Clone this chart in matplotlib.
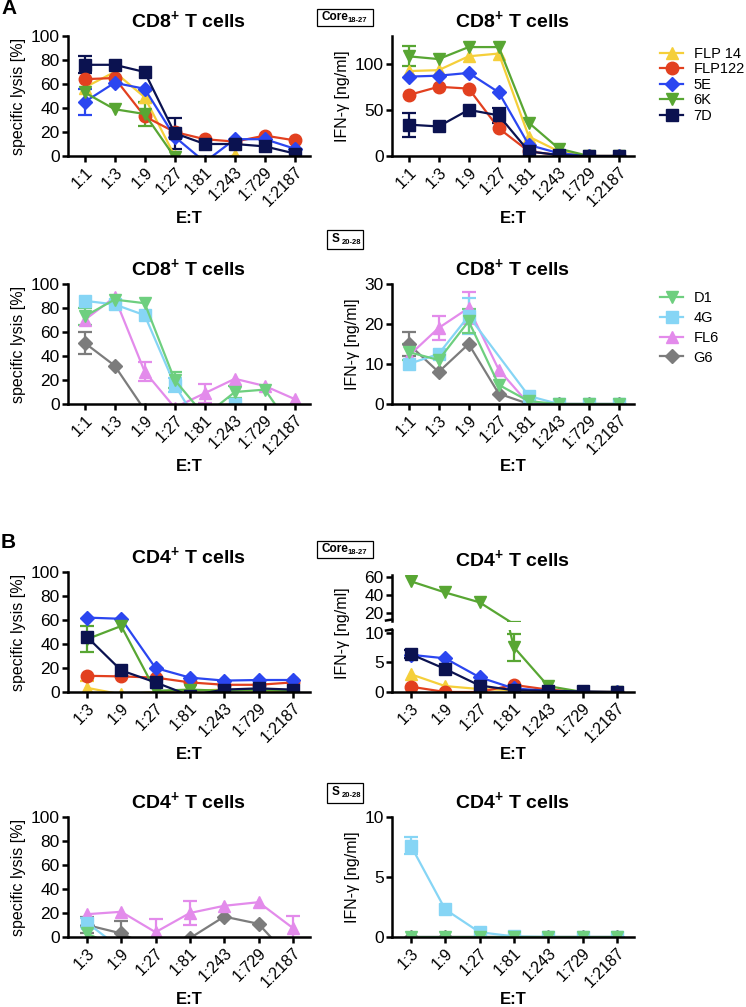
import numpy as np
import matplotlib
matplotlib.use('Agg')
import matplotlib.pyplot as plt
from matplotlib.lines import Line2D
from matplotlib.patches import Rectangle

plt.rcParams['font.family'] = ['Liberation Sans', 'DejaVu Sans']
plt.rcParams['mathtext.fontset'] = 'custom'
plt.rcParams['mathtext.rm'] = 'Liberation Sans'
plt.rcParams['mathtext.bf'] = 'Liberation Sans:bold'

N = np.nan

# ---- data ----
ratios_cd8 = ['1:1', '1:3', '1:9', '1:27', '1:81', '1:243', '1:729', '1:2187']
ratios_cd4 = ['1:3', '1:9', '1:27', '1:81', '1:243', '1:729', '1:2187']
core_clones = ['FLP 14', 'FLP122', '5E', '6K', '7D']
s_clones = ['D1', '4G', 'FL6', 'G6']

# A, Core18-27, CD8, specific lysis [%]
cd8_core_lysis = [
    [57, 70, 49, 0, -8, 1, -8, -10],
    [64, 65, 33, 20, 14, 12, 17, 13],
    [45, 61, 56, 16, -5, 14, 14, 6],
    [53, 39, 35, -1, -10, -10, -10, -10],
    [76, 76, 70, 19, 10, 10, 8, 2],
]
cd8_core_lysis_err = [
    [N, N, 5, N, N, N, N, N],
    [N, N, N, N, N, N, N, N],
    [11, N, N, N, N, N, N, N],
    [N, N, 10, N, N, N, N, N],
    [7, N, N, 13, N, N, N, N],
]
# A, Core18-27, CD8, IFN-g [ng/ml]
cd8_core_ifn = [
    [92, 93, 108, 111, 21, 5, 0, 0],
    [66, 75, 73, 30, 5, 1, 0, 0],
    [86, 87, 90, 69, 12, 3, 0, 0],
    [108, 105, 118, 118, 36, 8, 0, 0],
    [34, 32, 50, 44, 5, 1, 0, 0],
]
cd8_core_ifn_err = [
    [N, N, N, N, N, N, N, N],
    [N, N, N, N, N, N, N, N],
    [N, N, N, N, N, N, N, N],
    [11, N, N, N, N, N, N, N],
    [13, N, N, 8, N, N, N, N],
]
# A, S20-28, CD8, specific lysis [%]
cd8_s_lysis = [
    [73, 87, 84, 20, -10, 10, 12, -24],
    [86, 83, 74, 16, -25, 0, -20, -20],
    [70, 89, 27, -3, 9, 21, 15, 4],
    [51, 32, -5, -30, -30, -30, -30, -30],
]
cd8_s_lysis_err = [
    [7, N, N, 7, N, 5, N, N],
    [N, N, N, 6, N, N, N, N],
    [N, N, 8, N, 8, N, N, N],
    [9, N, N, N, N, N, N, N],
]
# A, S20-28, CD8, IFN-g [ng/ml]
cd8_s_ifn = [
    [13, 11, 20.7, 4.8, 0.7, 0, 0, 0],
    [10, 12.5, 22, N, 2, 0, 0, 0],
    [12, 19, 24, 8.6, 0, 0, 0, 0],
    [15, 8, 15, 2.6, 0, 0, 0, 0],
]
cd8_s_ifn_err = [
    [2, N, 3, N, N, N, N, N],
    [N, N, 4.5, N, N, N, N, N],
    [N, 3, 4, N, N, N, N, N],
    [3, N, N, N, N, N, N, N],
]
# B, Core18-27, CD4, specific lysis [%]
cd4_core_lysis = [
    [3.5, -2, 0, 1, 2, 1, 0],
    [13.5, 13, 12, 8, 6, 6, 8],
    [62, 61, 20, 12, 9.5, 10, 10],
    [44, 55, 1, 2, 1, 2, 1],
    [46, 18, 8, -3, 2, 3, 2],
]
cd4_core_lysis_err = [
    [6, N, N, N, N, N, N],
    [N, N, N, N, N, N, N],
    [N, N, N, N, N, N, N],
    [11, N, N, N, N, N, N],
    [N, N, N, N, N, N, N],
]
# B, Core18-27, CD4, IFN-g [ng/ml]
cd4_core_ifn = [
    [3, 1, 0.5, 0.3, 0.1, 0, 0],
    [0.9, 0, 0, 1.2, 0.4, 0, 0],
    [6.3, 5.7, 2.5, 0.6, 0.2, 0, 0],
    [55, 42.6, 31.7, 7.6, 1, 0, 0],
    [6.4, 3.9, 1.1, 0.3, 0.2, 0.1, 0],
]
cd4_core_ifn_err = [
    [N, N, N, N, N, N, N],
    [N, N, N, N, N, N, N],
    [N, N, N, N, N, N, N],
    [N, N, N, 2.3, N, N, N],
    [0.7, N, N, N, N, N, N],
]
# B, S20-28, CD4, specific lysis [%]
cd4_s_lysis = [
    [3, -10, -10, -10, -10, -10, -10],
    [12, -10, -10, -10, -10, -10, -10],
    [19, 21, 4, 20, 26, 29, 7.5],
    [10, 3, -10, -1, 17, 11, -20],
]
cd4_s_lysis_err = [
    [N, N, N, N, N, N, N],
    [4, N, N, N, N, N, N],
    [N, N, 11, 10, N, N, 10],
    [7, 10, N, N, N, N, N],
]
# B, S20-28, CD4, IFN-g [ng/ml]
cd4_s_ifn = [
    [0, 0, 0, 0, 0, 0, 0],
    [7.6, 2.3, 0.4, 0.05, 0, 0, 0],
    [0, 0, 0, 0, 0, 0, 0],
    [0, 0, 0, 0, 0, 0, 0],
]
cd4_s_ifn_err = [
    [N, N, N, N, N, N, N],
    [0.7, N, N, N, N, N, N],
    [N, N, N, N, N, N, N],
    [N, N, N, N, N, N, N],
]

core_colors = ['#F5CF3A', '#E2401F', '#2B46F0', '#58A633', '#0B1250']
core_markers = ['^', 'o', 'D', 'v', 's']
s_colors = ['#6ECF7F', '#86D5F5', '#E38BEB', '#7C7C7C']
s_markers = ['v', 's', '^', 'D']

W, H = 746, 1007
fig = plt.figure(figsize=(W / 100, H / 100), dpi=100)


def px_axes(x0, top, w, h):
    return fig.add_axes([x0 / W, 1 - (top + h) / H, w / W, h / H])


def msize(m):
    return 7.5 if m == 'D' else 9


def draw(ax, labels, data, errs, colors, markers, order, lo=None):
    x = np.arange(len(labels))
    for i in order:
        y = np.array(data[i], float)
        e = np.array(errs[i], float)
        ok = ~np.isnan(y)
        if lo is None:
            ax.errorbar(x[ok], y[ok], yerr=e[ok], color=colors[i], marker=markers[i],
                        ms=msize(markers[i]), lw=1.6, elinewidth=1.6, capsize=5, capthick=1.6)
        else:
            # upper part of a broken axis: no markers for points under the break
            ax.errorbar(x[ok], y[ok], yerr=e[ok], color=colors[i], marker='none',
                        lw=1.6, elinewidth=1.6, capsize=5, capthick=1.6)
            up = ok & (y >= lo)
            ax.plot(x[up], y[up], ls='none', color=colors[i], marker=markers[i], ms=msize(markers[i]))


def style(ax, labels, ylim, yticks, ylabel=None, xlabel=True):
    ax.set_xlim(-0.55, len(labels) - 0.5)
    ax.set_ylim(*ylim)
    ax.set_yticks(yticks)
    for s in ['top', 'right']:
        ax.spines[s].set_visible(False)
    for s in ['left', 'bottom']:
        ax.spines[s].set_linewidth(1.8)
    ax.tick_params(width=1.8, length=4.5, labelsize=12.5, pad=1.5)
    ax.set_xticks(np.arange(len(labels)))
    ax.set_xticklabels(labels, rotation=45, ha='right', rotation_mode='anchor', fontsize=11.5)
    if ylabel:
        ax.set_ylabel(ylabel, fontsize=11.5, labelpad=3)
    if xlabel:
        ax.set_xlabel('E:T', fontsize=12, fontweight='bold', labelpad=1)


def title(ax, t):
    ax.set_title(t, fontsize=14, fontweight='bold', pad=6)


def tag(x0, y0, x1, y1, main, sub):
    fig.add_artist(Rectangle((x0 / W, 1 - y1 / H), (x1 - x0) / W, (y1 - y0) / H, fill=False,
                             lw=0.9, ec='black', transform=fig.transFigure))
    yc = (y0 + y1) / 2
    fig.text((x0 + 5) / W, 1 - (yc - 1) / H, main, fontsize=8.5, fontweight='bold', va='center', ha='left')
    xs = x0 + 5 + (26 if main == 'Core' else 10)
    fig.text(xs / W, 1 - (yc + 2.5) / H, sub, fontsize=5.5, fontweight='bold', va='center', ha='left')


cd8 = 'CD8$^{\\mathbf{+}}$ T cells'
cd4 = 'CD4$^{\\mathbf{+}}$ T cells'
lys = 'specific lysis [%]'
ifn = 'IFN-γ [ng/ml]'
LX, RX, AW = 68, 392, 242
core_order = range(5)
s_order = [3, 2, 1, 0]

# row 1
ax = px_axes(LX, 36, AW, 120)
draw(ax, ratios_cd8, cd8_core_lysis, cd8_core_lysis_err, core_colors, core_markers, core_order)
style(ax, ratios_cd8, (0, 100), [0, 20, 40, 60, 80, 100], lys)
title(ax, cd8)
ax = px_axes(RX, 36, AW, 120)
draw(ax, ratios_cd8, cd8_core_ifn, cd8_core_ifn_err, core_colors, core_markers, core_order)
style(ax, ratios_cd8, (0, 130), [0, 50, 100], ifn)
title(ax, cd8)

# row 2
ax = px_axes(LX, 284, AW, 120)
draw(ax, ratios_cd8, cd8_s_lysis, cd8_s_lysis_err, s_colors, s_markers, s_order)
style(ax, ratios_cd8, (0, 100), [0, 20, 40, 60, 80, 100], lys)
title(ax, cd8)
ax = px_axes(RX, 284, AW, 120)
draw(ax, ratios_cd8, cd8_s_ifn, cd8_s_ifn_err, s_colors, s_markers, s_order)
style(ax, ratios_cd8, (0, 30), [0, 10, 20, 30], ifn)
title(ax, cd8)

# row 3
ax = px_axes(LX, 572, AW, 120)
draw(ax, ratios_cd4, cd4_core_lysis, cd4_core_lysis_err, core_colors, core_markers, core_order)
style(ax, ratios_cd4, (0, 100), [0, 20, 40, 60, 80, 100], lys)
title(ax, cd4)
ax_t = px_axes(RX, 575, AW, 46)
ax_b = px_axes(RX, 630, AW, 62)
draw(ax_t, ratios_cd4, cd4_core_ifn, cd4_core_ifn_err, core_colors, core_markers, core_order, lo=11)
draw(ax_b, ratios_cd4, cd4_core_ifn, cd4_core_ifn_err, core_colors, core_markers, core_order)
style(ax_b, ratios_cd4, (0, 10.5), [0, 5, 10])
style(ax_t, ratios_cd4, (11, 62), [20, 40, 60], xlabel=False)
ax_t.spines['bottom'].set_visible(False)
ax_t.tick_params(axis='x', bottom=False, labelbottom=False)
title(ax_t, cd4)
fig.text(343 / W, 1 - 633 / H, ifn, rotation=90, fontsize=11.5, ha='center', va='center')
for yb in (620.5, 630.5):
    fig.add_artist(Line2D([(RX - 6) / W, RX / W], [1 - yb / H, 1 - (yb - 1) / H], color='black', lw=1.8))

# row 4
ax = px_axes(LX, 817, AW, 120)
draw(ax, ratios_cd4, cd4_s_lysis, cd4_s_lysis_err, s_colors, s_markers, s_order)
style(ax, ratios_cd4, (0, 100), [0, 20, 40, 60, 80, 100], lys)
title(ax, cd4)
ax = px_axes(RX, 817, AW, 120)
draw(ax, ratios_cd4, cd4_s_ifn, cd4_s_ifn_err, s_colors, s_markers, s_order)
style(ax, ratios_cd4, (0, 10), [0, 5, 10], ifn)
title(ax, cd4)

# legends
h_core = [Line2D([], [], color=c, marker=m, ms=msize(m), lw=1.6) for c, m in zip(core_colors, core_markers)]
fig.legend(h_core, core_clones, loc='upper left', bbox_to_anchor=(660 / W, 1 - 47 / H), frameon=False,
           fontsize=10.5, handlelength=1.6, handletextpad=0.7, labelspacing=0.1, borderpad=0, borderaxespad=0)
h_s = [Line2D([], [], color=c, marker=m, ms=msize(m), lw=1.6) for c, m in zip(s_colors, s_markers)]
fig.legend(h_s, s_clones, loc='upper left', bbox_to_anchor=(660 / W, 1 - 291 / H), frameon=False,
           fontsize=10.5, handlelength=1.6, handletextpad=0.7, labelspacing=0.4, borderpad=0, borderaxespad=0)

# tags and panel letters
tag(317, 9, 373, 26, 'Core', '18-27')
tag(317, 541, 373, 558, 'Core', '18-27')
tag(327, 230, 363, 249, 'S', '20-28')
tag(327, 783, 363, 803, 'S', '20-28')
fig.text(1 / W, 1 - 8 / H, 'A', fontsize=15, fontweight='bold', va='center', ha='left')
fig.text(1 / W, 1 - 543 / H, 'B', fontsize=15, fontweight='bold', va='center', ha='left')

fig.savefig('out.png', dpi=100)
